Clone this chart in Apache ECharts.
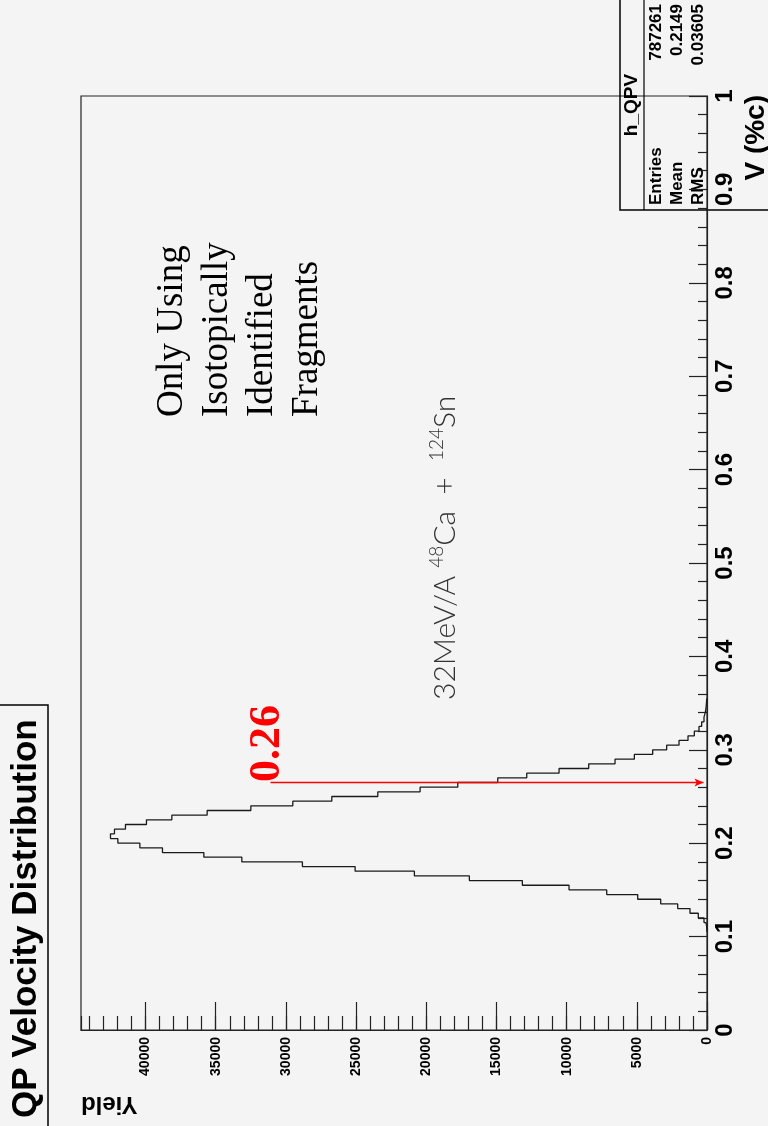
<!DOCTYPE html>
<html><head><meta charset="utf-8">
<script src="https://cdn.jsdelivr.net/npm/echarts@6/dist/echarts.min.js"></script>
<style>html,body{margin:0;padding:0;background:#f4f4f4;} #c{width:768px;height:1126px;}</style>
</head><body><div id="c"></div>
<script>
// Histogram: V (%c) bins, width 0.005, first bin lower edge 0.105
const binWidth = 0.005;
const binStart = 0.105;
const counts = [20, 70, 214, 620, 1211, 2087, 3298, 4937, 7144, 9829,
  13155, 16930, 20847, 25071, 28825, 33141, 35848, 38796, 40406, 41973,
  42500, 42215, 41432, 39936, 38127, 35613, 32500, 29509, 26731, 23454,
  20441, 17756, 14908, 12842, 10541, 8428, 6553, 5176, 3870, 2873,
  1994, 1353, 902, 570, 380, 214, 120, 70, 40, 20];
const vTicks = [0, 0.1, 0.2, 0.3, 0.4, 0.5, 0.6, 0.7, 0.8, 0.9, 1];
const yieldTicks = [0, 5000, 10000, 15000, 20000, 25000, 30000, 35000, 40000];
const yieldMax = 44600;
const cutV = 0.265;          // red line level
const cutLabel = '0.26';
const cutYield = [31100, 250]; // red line extent in yield
const statsName = 'h_QPV';
const statsLabels = ['Entries', 'Mean', 'RMS'];
const statsValues = ['787261', '0.2149', '0.03605'];

const pts = [[0, binStart]];
counts.forEach((c, i) => {
  const lo = binStart + i * binWidth, hi = lo + binWidth;
  pts.push([c, +lo.toFixed(4)], [c, +hi.toFixed(4)]);
});
pts.push([0, +(binStart + counts.length * binWidth).toFixed(4)]);

const chart = echarts.init(document.getElementById('c'), null, {renderer: 'canvas'});
const F = 'Liberation Sans, Arial, sans-serif';
const R = Math.PI / 2;
const graphics = [];
// title
graphics.push({type: 'rect', shape: {x: -2, y: 705, width: 50, height: 430},
  style: {fill: 'none', stroke: '#000', lineWidth: 1.5}});
graphics.push({type: 'text', x: 26, y: 1118, rotation: R,
  style: {text: 'QP Velocity Distribution', font: 'bold 35px ' + F, fill: '#000', align: 'left', verticalAlign: 'middle'}});
// y title
graphics.push({type: 'text', x: 81, y: 1104, rotation: Math.PI,
  style: {text: 'Yield', font: 'bold 24px ' + F, fill: '#000', align: 'right', verticalAlign: 'middle'}});
// x title
graphics.push({type: 'text', x: 756, y: 95, rotation: R,
  style: {text: 'V (%c)', font: 'bold 28px ' + F, fill: '#000', align: 'right', verticalAlign: 'middle'}});
// reaction label
graphics.push({type: 'text', x: 445, y: 700, rotation: R,
  style: {text: '{n|32MeV/A }{s|48}{n|Ca  +  }{s|124}{n|Sn}', fill: '#333', align: 'left', verticalAlign: 'middle',
    rich: {n: {fontFamily: 'Lato', fontWeight: 300, fontSize: 30, fill: '#333'},
           s: {fontFamily: 'Lato', fontWeight: 300, fontSize: 19, fill: '#333', verticalAlign: 'top', padding: [0,0,16,0]}}}});
// notes
['Only Using', 'Isotopically', 'Identified', 'Fragments'].forEach((t, i) => {
  graphics.push({type: 'text', x: 172 + 45 * i, y: 417, rotation: R,
    style: {text: t, font: '37px Liberation Serif, Times New Roman, serif', fill: '#000', align: 'left', verticalAlign: 'middle'}});
});
// cut label
graphics.push({type: 'text', x: 268, y: 782, rotation: R,
  style: {text: cutLabel, font: 'bold 44px Liberation Serif, Times New Roman, serif', fill: '#ff0000', align: 'left', verticalAlign: 'middle'}});
// stats box
graphics.push({type: 'rect', shape: {x: 620, y: -2, width: 150, height: 212},
  style: {fill: 'none', stroke: '#000', lineWidth: 1.5}});
graphics.push({type: 'line', shape: {x1: 644, y1: 0, x2: 644, y2: 210}, style: {stroke: '#000', lineWidth: 1.2}});
graphics.push({type: 'text', x: 632, y: 105, rotation: R,
  style: {text: statsName, font: 'bold 19px ' + F, fill: '#000', align: 'center', verticalAlign: 'middle'}});
statsLabels.forEach((lab, i) => {
  const x = 656 + 21 * i;
  graphics.push({type: 'text', x: x, y: 205, rotation: R,
    style: {text: lab, font: 'bold 17px ' + F, fill: '#000', align: 'left', verticalAlign: 'middle'}});
  graphics.push({type: 'text', x: x, y: 4, rotation: R,
    style: {text: statsValues[i], font: 'bold 17px ' + F, fill: '#000', align: 'right', verticalAlign: 'middle'}});
});

chart.setOption({
  backgroundColor: '#f4f4f4',
  animation: false,
  grid: {left: 81, right: 61, top: 96, bottom: 96, show: true, borderColor: '#222', borderWidth: 1.2, backgroundColor: 'transparent'},
  xAxis: [{
    type: 'value', inverse: true, min: 0, max: yieldMax, interval: 5000, position: 'bottom',
    axisLine: {show: true, lineStyle: {color: '#222', width: 1.2}},
    axisTick: {show: true, inside: true, length: 28, lineStyle: {color: '#222', width: 1.2}},
    axisLabel: {rotate: 90, margin: 7, fontFamily: F, fontWeight: 'bold', fontSize: 14, color: '#000',
      showMaxLabel: false, formatter: v => yieldTicks.includes(v) ? String(v) : ''},
    splitLine: {show: false}
  }, {
    type: 'value', inverse: true, min: 0, max: yieldMax, interval: 1000, position: 'bottom',
    axisLine: {show: false}, axisLabel: {show: false}, splitLine: {show: false},
    axisTick: {show: true, inside: true, length: 14, lineStyle: {color: '#222', width: 1.2}}
  }],
  yAxis: [{
    type: 'value', min: 0, max: 1, interval: 0.1, position: 'right',
    axisLine: {show: true, lineStyle: {color: '#222', width: 1.2}},
    axisTick: {show: true, inside: true, length: 18, lineStyle: {color: '#222', width: 1.2}},
    minorTick: {show: true, splitNumber: 5, length: 9, lineStyle: {color: '#222', width: 1.2}},
    axisLabel: {rotate: 90, margin: 6, fontFamily: F, fontWeight: 'bold', fontSize: 24, color: '#000',
      formatter: v => { const t = vTicks.find(k => Math.abs(k - v) < 1e-9); return t === undefined ? '' : String(t); }},
    splitLine: {show: false}
  }],
  series: [{
    type: 'line', xAxisIndex: 0, yAxisIndex: 0, data: pts, symbol: 'none', silent: true,
    lineStyle: {color: '#1a1a1a', width: 1.3}
  }, {
    type: 'line', xAxisIndex: 0, yAxisIndex: 0, silent: true, showSymbol: true, symbol: 'none',
    data: [{value: [cutYield[0], cutV]},
           {value: [cutYield[1], cutV], symbol: 'arrow', symbolSize: [6, 9], symbolRotate: -90,
            itemStyle: {color: '#ff0000'}}],
    itemStyle: {color: '#ff0000'},
    lineStyle: {color: '#ff0000', width: 1.5}
  }],
  graphic: graphics
});
</script></body></html>
